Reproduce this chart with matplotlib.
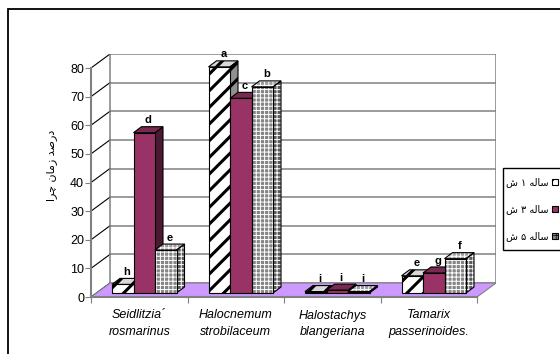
import numpy as np
import matplotlib.pyplot as plt
from matplotlib.patches import Polygon, Rectangle

plt.rcParams['font.family'] = ['Liberation Sans', 'DejaVu Sans']

species = ["Seidlitzia\u00b4\nrosmarinus", "Halocnemum\nstrobilaceum",
           "Halostachys\nblangeriana", "Tamarix\npasserinoides."]
# persian strings kept in display order (presentation forms)
ylab = "ﺍﺮﭼ ﻥﺎﻣﺯ ﺪﺻﺭﺩ"
series_names = ["ﺵ ۱ ﻪﻟﺎﺳ", "ﺵ ۳ ﻪﻟﺎﺳ", "ﺵ ۵ ﻪﻟﺎﺳ"]
yr1 = [3, 79, 0.5, 6]
yr3 = [56, 68, 1, 7]
yr5 = [15, 72, 0.5, 12]
let1 = ["h", "a", "i", "e"]
let3 = ["d", "c", "i", "g"]
let5 = ["e", "b", "i", "f"]
yticks = list(range(0, 81, 10))

W, H = 560, 354
PXX, PXY = 96.5, 2.8625          # pixels per category / per percent
DX, DY = 19 / PXX, 14 / PXY      # wall depth
BW = 21.5 / PXX                  # bar width
OX, OY = 5 / PXX, 4 / PXY        # bar front offset from front plane
BDX, BDY = 8 / PXX, 6 / PXY      # bar depth
GRAY = "#808080"

fig = plt.figure(figsize=(W / 100, H / 100), dpi=100)
ax = fig.add_axes([91 / W, (H - 297) / H, (4 + DX) * PXX / W, 85 * PXY / H])
ax.set_xlim(0, 4 + DX)
ax.set_ylim(0, 85)
ax.patch.set_visible(False)

# back wall, side wall and floor
for v in yticks:
    ax.plot([DX, 4 + DX], [v + DY, v + DY], color=GRAY, lw=1.1, zorder=0.5)
    ax.plot([0, DX], [v, v + DY], color="black", lw=0.8, zorder=0.5)
ax.plot([DX, DX], [DY, 80 + DY], color=GRAY, lw=1.1, zorder=0.5)
ax.plot([4 + DX, 4 + DX], [DY, 80 + DY], color=GRAY, lw=1.1, zorder=0.5)
ax.add_patch(Polygon([(0, 0), (4, 0), (4 + DX, DY), (DX, DY)],
                     facecolor="#cc99ff", edgecolor=GRAY, lw=0.8, zorder=1))

styles = [
    dict(front="white", top="#d8d8d8", side="#909090", hatch="//", hc="black"),
    dict(front="#993366", top="#7a2950", side="#4c1933", hatch=None, hc=None),
    dict(front="#858585", top="#a0a0a0", side="#5a5a5a", hatch="++++", hc="white"),
]
series = [yr1, yr3, yr5]
letters = [let1, let3, let5]
x = np.arange(4)

for k, (vals, st, lets) in enumerate(zip(series, styles, letters)):
    z = 2 + k
    x0 = x + 0.5 - 1.5 * BW + k * BW + OX
    lw_h = 2.2 if k == 0 else 0.7
    with plt.rc_context({"hatch.linewidth": lw_h}):
        for xi, h in zip(x0, vals):
            top = [(xi, OY + h), (xi + BW, OY + h),
                   (xi + BW + BDX, OY + h + BDY), (xi + BDX, OY + h + BDY)]
            side = [(xi + BW, OY), (xi + BW + BDX, OY + BDY),
                    (xi + BW + BDX, OY + h + BDY), (xi + BW, OY + h)]
            for pts, fc in ((side, st["side"]), (top, st["top"])):
                if st["hatch"]:
                    ax.add_patch(Polygon(pts, facecolor=fc, edgecolor=st["hc"],
                                         hatch=st["hatch"], lw=0, zorder=z + 0.1))
                    ax.add_patch(Polygon(pts, fill=False, edgecolor="black",
                                         lw=0.8, zorder=z + 0.15))
                else:
                    ax.add_patch(Polygon(pts, facecolor=fc, edgecolor="black",
                                         lw=0.8, zorder=z + 0.1))
        if st["hatch"]:
            ax.bar(x0, vals, width=BW, bottom=OY, align="edge", color=st["front"],
                   edgecolor=st["hc"], hatch=st["hatch"], lw=0, zorder=z + 0.2)
            ax.bar(x0, vals, width=BW, bottom=OY, align="edge", fill=False,
                   edgecolor="black", lw=0.8, zorder=z + 0.25)
        else:
            ax.bar(x0, vals, width=BW, bottom=OY, align="edge", color=st["front"],
                   edgecolor="black", lw=0.8, zorder=z + 0.2)
    for xi, h, t in zip(x0, vals, lets):
        ax.text(xi + BW / 2 + BDX / 2, OY + h + BDY + 0.5, t, ha="center",
                va="bottom", fontsize=8, fontweight="bold", zorder=6)

# axes
for s in ("top", "right"):
    ax.spines[s].set_visible(False)
ax.spines["left"].set_bounds(0, 80)
ax.spines["bottom"].set_bounds(0, 4)
for s in ("left", "bottom"):
    ax.spines[s].set_color(GRAY)
    ax.spines[s].set_linewidth(1.5)
ax.set_yticks(yticks)
ax.tick_params(axis="y", length=4, color=GRAY, labelsize=9, pad=1)
ax.set_xticks(range(5))
ax.set_xticklabels([])
ax.set_xticks(x + 0.5, species, minor=True)
ax.tick_params(axis="x", which="major", length=4, color=GRAY)
ax.tick_params(axis="x", which="minor", length=0, labelsize=9, pad=9)
for lbl in ax.get_xticklabels(minor=True):
    lbl.set_fontstyle("italic")
    lbl.set_linespacing(1.5)

fig.text(52 / W, 1 - 165 / H, ylab, rotation=90, ha="center", va="center",
         fontsize=8, family=["DejaVu Sans"])

# outer frame
fig.add_artist(Rectangle((8 / W, -0.1), 2, 1.1 - 9 / H, fill=False,
                         edgecolor="black", lw=1.3, transform=fig.transFigure))

# legend box, entries drawn right to left
box = Rectangle((503 / W, 1 - 250 / H), 0.5, 82 / H, facecolor="white",
                edgecolor="black", lw=1, transform=fig.transFigure, zorder=5)
fig.add_artist(box)
for k, (name, st) in enumerate(zip(series_names, styles)):
    yc = 182 + 27 * k
    with plt.rc_context({"hatch.linewidth": 1.0 if k == 0 else 0.5}):
        fig.add_artist(Rectangle((552 / W, 1 - (yc + 3) / H), 6 / W, 6 / H,
                                 facecolor=st["front"], edgecolor="black",
                                 hatch=st["hatch"], lw=0.8,
                                 transform=fig.transFigure, zorder=6))
    t = fig.text(549 / W, 1 - yc / H, name, ha="right", va="center",
                 fontsize=7, family=["DejaVu Sans"], zorder=6)
    t.set_clip_path(box)

fig.savefig("out.png", dpi=100)
